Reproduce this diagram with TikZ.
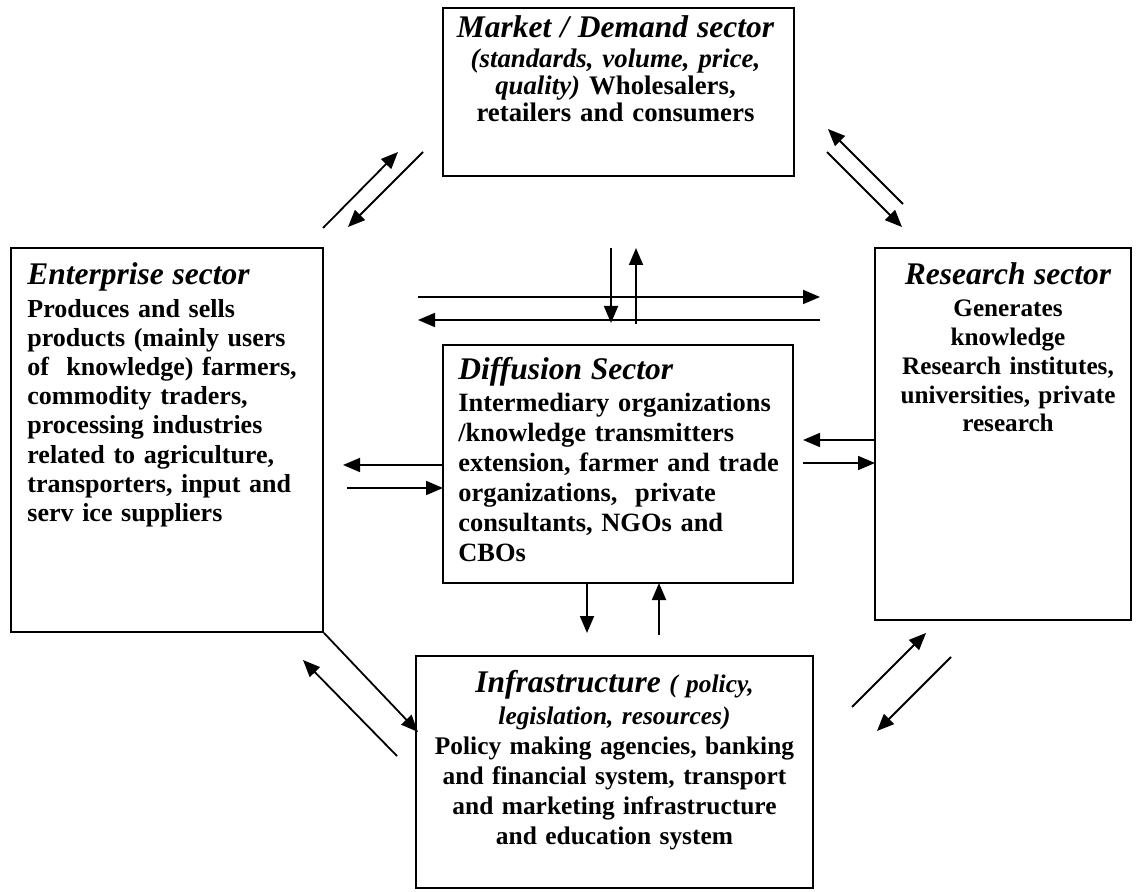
\documentclass[tikz,border=0pt]{standalone}
\usepackage{fontspec}
\setmainfont{Liberation Serif}
\usetikzlibrary{arrows.meta,positioning}

\newcommand{\sectitle}[1]{{\fontsize{15.75}{18}\selectfont\itshape #1}}

\tikzset{
  sector/.style={draw,line width=0.9pt,inner sep=0pt},
  txt/.style={inner sep=0pt,font=\fontsize{13}{14}\selectfont\bfseries},
  flow/.style={line width=0.9pt,-{Triangle[length=8.5pt,width=7pt]}}
}

\begin{document}
\begin{tikzpicture}[x=0.5pt,y=-0.5pt]
\useasboundingbox (0,0) rectangle (1140,892);

\node[sector,minimum width=175.5pt,minimum height=84pt] (M) at (618.5,92) {};
\node[sector,minimum width=156pt,minimum height=192pt] (E) at (167,440) {};
\node[sector,minimum width=128pt,minimum height=186pt] (R) at (1003,434) {};
\node[sector,minimum width=175pt,minimum height=119pt] (D) at (618,464) {};
\node[sector,minimum width=198.5pt,minimum height=116pt] (I) at (614.5,772) {};

\node[txt,anchor=base,text width=172pt,align=center,
  font=\fontsize{13.4}{13.5}\selectfont\bfseries] (Mtxt) at (615.5,38)
  {\sectitle{Market / Demand sector}\\[1.5pt]
   {\itshape (standards, volume, price,}\\
   {\itshape quality)} Wholesalers,\\
   retailers and consumers};
\node[txt,anchor=base west,text width=152pt,align=left,
  font=\fontsize{13}{14.6}\selectfont\bfseries] (Etxt) at (27,285)
  {\sectitle{Enterprise sector}\\[1.5pt]
   Produces and sells\\
   products (mainly users\\
   of\ \ knowledge) farmers,\\
   commodity traders,\\
   processing industries\\
   related to agriculture,\\
   transporters, input and\\
   serv ice suppliers};
\node[txt,anchor=base,text width=126pt,align=center,
  font=\fontsize{12.6}{14.4}\selectfont\bfseries] (Rtxt) at (1008,285)
  {\sectitle{Research sector}\\[1.5pt]
   Generates\\
   knowledge\\
   Research institutes,\\
   universities, private\\
   research};
\node[txt,anchor=base west,text width=170pt,align=left,
  font=\fontsize{13.2}{15}\selectfont\bfseries] (Dtxt) at (458,380)
  {\sectitle{Diffusion Sector}\\[1pt]
   Intermediary organizations\\
   /knowledge transmitters\\
   extension, farmer and trade\\
   organizations,\ \ private\\
   consultants, NGOs and\\
   CBOs};
\node[txt,anchor=base,text width=196pt,align=center,
  font=\fontsize{12.7}{15}\selectfont\bfseries] (Itxt) at (614.5,692)
  {\sectitle{Infrastructure} {\itshape ( policy,}\\[1pt]
   {\itshape legislation, resources)}\\
   Policy making agencies, banking\\
   and financial system, transport\\
   and marketing infrastructure\\
   and education system};

\coordinate (em1) at (323,228);  \coordinate (em2) at (398,152);
\coordinate (me1) at (423,152);  \coordinate (me2) at (348,227);
\coordinate (rm1) at (903,204);  \coordinate (rm2) at (828,129);
\coordinate (mr1) at (827,152);  \coordinate (mr2) at (902,227);
\coordinate (er1) at (418,297);  \coordinate (er2) at (820,297);
\coordinate (re1) at (820,320);  \coordinate (re2) at (418,320);
\coordinate (md1) at (611,248);  \coordinate (md2) at (611,323);
\coordinate (dm1) at (636,324);  \coordinate (dm2) at (636,248);
\coordinate (de1) at (443,465);  \coordinate (de2) at (343,465);
\coordinate (ed1) at (347,488);  \coordinate (ed2) at (443,488);
\coordinate (rd1) at (875,440);  \coordinate (rd2) at (803,440);
\coordinate (dr1) at (803,463);  \coordinate (dr2) at (875,463);
\coordinate (di1) at (587,583);  \coordinate (di2) at (587,633);
\coordinate (id1) at (659,635);  \coordinate (id2) at (659,583);
\coordinate (ei2) at (418,732);
\coordinate (ie1) at (397,756);  \coordinate (ie2) at (303,660);
\coordinate (ir1) at (852,707);  \coordinate (ir2) at (926,633);
\coordinate (ri1) at (951,657);  \coordinate (ri2) at (877,731);

\path[flow]
(em1) edge (em2)
(me1) edge (me2)
(rm1) edge (rm2)
(mr1) edge (mr2)
(er1) edge (er2)
(re1) edge (re2)
(md1) edge (md2)
(dm1) edge (dm2)
(de1) edge (de2)
(ed1) edge (ed2)
(rd1) edge (rd2)
(dr1) edge (dr2)
(di1) edge (di2)
(id1) edge (id2)
(E.south east) edge (ei2)
(ie1) edge (ie2)
(ir1) edge (ir2)
(ri1) edge (ri2);
\end{tikzpicture}
\end{document}
